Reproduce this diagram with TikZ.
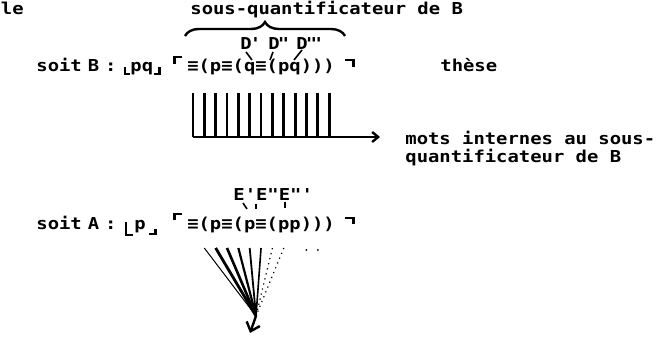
\documentclass[tikz,border=0pt]{standalone}
\usepackage{fontspec}
\usetikzlibrary{arrows.meta,decorations.pathreplacing}
\newfontfamily\tw{DejaVu Sans Mono}[Ligatures=TeXOff,FakeStretch=1.15]
\newcommand\fopen{(}
\newcommand\fclose{)}

\begin{document}
\begin{tikzpicture}[x=.5pt,y=-.5pt,
 txt/.style={font=\tw\bfseries\fontsize{8.2}{10}\selectfont,inner sep=0pt,anchor=base west},
 glyph/.style={txt,anchor=base},
 corner/.style={line width=1.4pt},
 wire/.style={line width=1.4pt},
 tick/.style={line width=.8pt},
 flow/.style={-{Straight Barb[length=3pt,width=5pt]},line width=1.2pt}]
\useasboundingbox (0,0) rectangle (657,341);
\node[txt] (le) at (.5,15) {le};
\node[txt] (head) at (190,15) {sous-quantificateur de B};
\draw[wire,line width=1.2pt,decorate,decoration={brace,amplitude=7pt}] (185,36) -- (345,36);
\node[txt] (dA) at (240,50) {D\kern-1pt'};
\node[txt] (dB) at (268,50) {D\kern-1pt"};
\node[txt] (dC) at (296,50) {D\kern-1pt"\kern-2pt'};
\draw[tick] (dA.base west) ++(6,2) -- ++(6,8);
\draw[tick] (dB.base west) ++(5,2) -- ++(-3,8);
\draw[tick] (dC.base west) ++(6,0) -- ++(-8,10);
% row B: the thesis and its sub-quantifier
\node[txt] (soitB) at (36,72) {soit\hspace{3pt}B\hspace{3pt}:};
\node[txt] (pqB) at (130,72) {pq};
\foreach \sym [count=\i] in {≡,\fopen,p,≡,\fopen,q,≡,\fopen,p,q,\fclose,\fclose,\fclose}
 \node[glyph] (b\i) at (181.6+11.35*\i,72) {\sym};
\draw[corner] (pqB.base west) ++(-5,-5) -- ++(0,7) -- ++(5,0);
\draw[corner] (pqB.base east) ++(0,2) -- ++(6,0) -- ++(0,-7);
\draw[corner] (b1.base west) ++(-12,-8) -- ++(0,-7) -- ++(7,0);
\draw[corner] (b13.base east) ++(10,-12) -- ++(8,0) -- ++(0,7);
\node[txt] (these) at (440,72) {thèse};
\coordinate (floor) at (0,137);
\foreach \i in {1,...,13}
 \draw[wire] (b\i.base) ++(0,21) -- (b\i |- floor);
\node[txt] (int1) at (405,145) {mots internes au sous-};
\node[txt] (int2) at (405,163) {quantificateur de B};
\draw[flow] (b1 |- floor) -- ([xshift=-12.5pt]int1.west |- floor);
% row A: the fan of E-words
\node[txt] (eLab) at (233,201) {E'E"E"'};
\draw[tick] (eLab.base west) ++(10,2) -- ++(4,6);
\draw[tick] (eLab.base west) ++(23,3) -- ++(0,5);
\draw[tick] (eLab.base west) ++(52,1) -- ++(0,6);
\node[txt] (soitA) at (36,230) {soit\hspace{3pt}A\hspace{3pt}:};
\node[txt] (pA) at (134,230) {p};
\foreach \sym [count=\i] in {≡,\fopen,p,≡,\fopen,p,≡,\fopen,p,p,\fclose,\fclose,\fclose}
 \node[glyph] (a\i) at (181.6+11.35*\i,230) {\sym};
\draw[corner] (pA.base west) ++(-8,-8) -- ++(0,13) -- ++(7,0);
\draw[corner] (pA.base east) ++(3,4) -- ++(6,0) -- ++(0,-5);
\draw[corner] (a1.base west) ++(-12,-10) -- ++(0,-6) -- ++(7,0);
\draw[corner] (a13.base east) ++(10,-12) -- ++(8,0) -- ++(0,6);
\coordinate (conv) at (256,316);
\coordinate (fanTip) at (250,333);
\foreach \i/\w in {2/.5pt,3/1.4pt,4/1.3pt,5/1.1pt,6/.9pt,7/.8pt}
 \draw[line width=\w] (a\i.base) ++(0,18) -- (conv);
\foreach \i in {8,9}
 \draw[line width=.6pt,dotted] (a\i.base) ++(0,18) -- (conv);
\foreach \i in {11,12}
 \fill (a\i.base) ++(0,20) circle (1);
\draw[flow,-{Straight Barb[length=4pt,width=7pt]}] (conv) -- (fanTip);
\end{tikzpicture}
\end{document}
